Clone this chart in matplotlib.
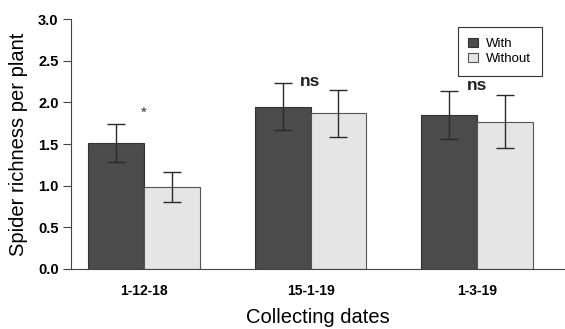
import matplotlib
matplotlib.use("Agg")
import matplotlib.pyplot as plt
import numpy as np

plt.rcParams['font.family'] = ['Liberation Sans', 'DejaVu Sans']

# data
dates = ['1-12-18', '15-1-19', '1-3-19']
with_mean = [1.51, 1.95, 1.85]
with_se = [0.23, 0.28, 0.29]
without_mean = [0.98, 1.87, 1.77]
without_se = [0.18, 0.28, 0.32]
signif = ['*', 'ns', 'ns']
signif_y = [1.88, 2.25, 2.2]

fig = plt.figure(figsize=(5.65, 3.29), dpi=100)
ax = fig.add_axes([0.1257, 0.1824, 0.8743, 0.7598])

x = np.arange(len(dates))
w = 0.336
err_kw = dict(ecolor='#2b2b2b', elinewidth=1.0, capsize=6.5, capthick=1.0)
ax.bar(x - w / 2, with_mean, w, yerr=with_se, color='#4b4b4b',
       edgecolor='#333333', linewidth=0.8, label='With', error_kw=err_kw)
ax.bar(x + w / 2, without_mean, w, yerr=without_se, color='#e5e5e5',
       edgecolor='#555555', linewidth=0.8, label='Without', error_kw=err_kw)

for i, s in enumerate(signif):
  if s == '*':
    ax.text(x[i], signif_y[i], s, ha='center', va='center', fontsize=11, color='#333333')
  else:
    ax.text(x[i], signif_y[i], s, ha='center', va='center', fontsize=12.5, fontweight='bold', color='#222222')

ax.set_xlim(-0.44, 2.53)
ax.set_ylim(0, 3.0)
yt = np.arange(0, 3.01, 0.5)
ax.set_yticks(yt)
ax.set_yticklabels(['%.1f' % v for v in yt], fontweight='bold', fontsize=10.5)
ax.set_xticks(x)
ax.set_xticklabels(dates, fontweight='bold', fontsize=10)
ax.tick_params(axis='x', length=0, pad=11)
ax.tick_params(axis='y', length=6, width=0.8, color='#444444', pad=3)
ax.spines['top'].set_visible(False)
ax.spines['right'].set_visible(False)
ax.spines['left'].set_color('#444444')
ax.spines['bottom'].set_color('#444444')

ax.set_ylabel('Spider richness per plant', fontsize=14.5, labelpad=7)
ax.set_xlabel('Collecting dates', fontsize=14.5, labelpad=7)

leg = ax.legend(loc='upper right', bbox_to_anchor=(0.953, 0.968), borderaxespad=0,
                fontsize=9.5, fancybox=False, edgecolor='#333333', framealpha=1,
                handlelength=0.75, handleheight=0.75, handletextpad=0.6,
                borderpad=0.8, labelspacing=0.2)
leg.get_frame().set_linewidth(0.8)

fig.savefig('out.png', dpi=100)
